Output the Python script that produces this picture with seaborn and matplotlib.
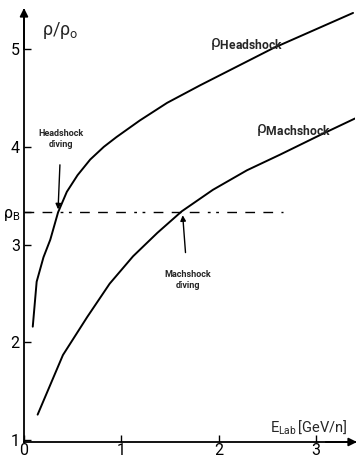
import matplotlib
matplotlib.use("Agg")
import matplotlib.pyplot as plt
import seaborn as sns
import pandas as pd

# Density ratio behind the head shock and the Mach shock vs. lab energy
e_head = [0.09, 0.13, 0.20, 0.27, 0.35, 0.44, 0.55, 0.68, 0.82, 0.95, 1.19, 1.47, 1.81, 2.56, 3.38]
rho_head = [2.16, 2.62, 2.87, 3.05, 3.33, 3.54, 3.71, 3.87, 4.00, 4.10, 4.27, 4.45, 4.63, 5.01, 5.37]

e_mach = [0.14, 0.40, 0.65, 0.88, 1.12, 1.37, 1.62, 1.94, 2.29, 2.63, 3.04, 3.40]
rho_mach = [1.26, 1.87, 2.26, 2.60, 2.88, 3.12, 3.34, 3.56, 3.76, 3.92, 4.12, 4.29]

rho_b = 3.33
rho_b_span = [0.0, 2.66]
e_head_diving = 0.35
e_mach_diving = 1.63

x_ticks = [0, 1, 2, 3]
y_ticks = [1, 2, 3, rho_b, 4, 5]
y_tick_labels = ["1", "2", "3", r"$\rho_B$", "4", "5"]

sns.set_theme(style="white")
plt.rcParams["font.family"] = ["Roboto", "DejaVu Sans"]
plt.rcParams["mathtext.fontset"] = "custom"
plt.rcParams["mathtext.rm"] = "Roboto"
plt.rcParams["mathtext.it"] = "Roboto"
plt.rcParams["mathtext.bf"] = "Roboto:bold"

W, H = 360, 459
fig = plt.figure(figsize=(W / 100, H / 100), dpi=100)
ax = fig.add_axes([24 / W, (H - 442) / H, (355 - 24) / W, (442 - 10) / H])

df_h = pd.DataFrame({"E": e_head, "rho": rho_head})
df_m = pd.DataFrame({"E": e_mach, "rho": rho_mach})
sns.lineplot(data=df_h, x="E", y="rho", ax=ax, color="black", lw=1.4, sort=False)
sns.lineplot(data=df_m, x="E", y="rho", ax=ax, color="black", lw=1.4, sort=False)

ax.plot(rho_b_span, [rho_b, rho_b], color="black", lw=1.0,
        dashes=[7, 6, 7, 6, 2, 4, 2, 6, 7, 6])

ax.set_xlim(0, 3.4)
ax.set_ylim(0.98, 5.40)
ax.set_xlabel("")
ax.set_ylabel("")

for s in ["top", "right"]:
    ax.spines[s].set_visible(False)
for s in ["left", "bottom"]:
    ax.spines[s].set_color("black")
    ax.spines[s].set_linewidth(1.3)

ax.set_xticks(x_ticks)
ax.set_xticklabels([str(t) for t in x_ticks])
ax.set_yticks(y_ticks)
ax.set_yticklabels(y_tick_labels)
ax.tick_params(axis="both", direction="in", length=5, width=1.0, color="black",
               labelsize=11.5, labelcolor="black", left=True, bottom=True)
ax.tick_params(axis="x", pad=1)
ax.tick_params(axis="y", pad=3)

# Axis arrows
ax.annotate("", xy=(0, 5.42), xytext=(0, 5.0), xycoords="data",
            arrowprops=dict(arrowstyle="-|>", color="black", lw=1.3,
                            mutation_scale=12, shrinkA=0, shrinkB=0),
            annotation_clip=False)
ax.annotate("", xy=(3.42, 0.98), xytext=(3.1, 0.98), xycoords="data",
            arrowprops=dict(arrowstyle="-|>", color="black", lw=1.3,
                            mutation_scale=12, shrinkA=0, shrinkB=0),
            annotation_clip=False)

ax.text(0.19, 5.14, r"$\rho/\rho_o$", fontsize=13, ha="left", va="baseline")
ax.text(2.53, 1.09, r"$E_{Lab}\,$[GeV/n]", fontsize=10.5, ha="left", va="baseline")

ax.text(1.91, 5.02, r"$\rho_{\mathbf{Headshock}}$", fontsize=12.5, ha="left", va="baseline")
ax.text(2.38, 4.14, r"$\rho_{\mathbf{Machshock}}$", fontsize=12.5, ha="left", va="baseline")

ax.annotate("Headshock\ndiving", xy=(e_head_diving, rho_b + 0.03),
            xytext=(0.38, 4.08), ha="center", va="center", fontsize=6.5,
            fontweight="bold", linespacing=1.3,
            arrowprops=dict(arrowstyle="-|>", color="black", lw=1.0,
                            mutation_scale=8, shrinkA=9, shrinkB=0))
ax.annotate("Machshock\ndiving", xy=(e_mach_diving, rho_b - 0.03),
            xytext=(1.68, 2.64), ha="center", va="center", fontsize=6.5,
            fontweight="bold", linespacing=1.3,
            arrowprops=dict(arrowstyle="-|>", color="black", lw=1.0,
                            mutation_scale=8, shrinkA=10, shrinkB=0))

fig.savefig("out.png", dpi=100)
